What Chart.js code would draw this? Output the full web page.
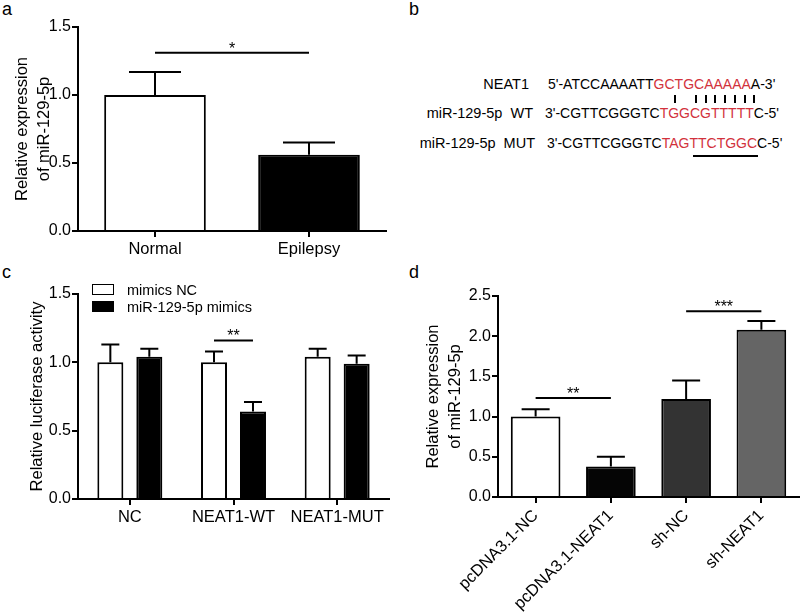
<!DOCTYPE html>
<html lang="en">
<head>
<meta charset="UTF-8">
<title>NEAT1 / miR-129-5p</title>
<script src="https://cdn.jsdelivr.net/npm/chart.js"></script>
<style>
  body { margin: 0; background: #fff; font-family: "Liberation Sans", Arial, sans-serif; color: #000; }
  #fig { position: relative; width: 800px; height: 615px; overflow: hidden; background: #fff; }
  #fig canvas { position: absolute; }
  .lbl { position: absolute; font-size: 18px; line-height: 18px; }
  .seq { position: absolute; font-size: 14px; line-height: 14px; white-space: pre; }
  .name { position: absolute; font-size: 14.5px; line-height: 14px; white-space: pre; text-align: right; }
  .red { color: #d2323c; }
  .pair { position: absolute; top: 95px; width: 2px; height: 8px; background: #000; }
  .legend-row { position: absolute; left: 92px; font-size: 14.5px; line-height: 14px; }
  .legend-row .box { position: absolute; left: 0; width: 20px; height: 9px; border: 1.5px solid #000; }
  .legend-row span { position: absolute; left: 35px; top: -1px; white-space: nowrap; }
</style>
</head>
<body>
<div id="fig">
  <div class="lbl" style="left:2px;top:0px">a</div>
  <div class="lbl" style="left:409px;top:0px">b</div>
  <div class="lbl" style="left:2px;top:263px">c</div>
  <div class="lbl" style="left:409px;top:263px">d</div>

  <canvas id="chartA" width="400" height="270" style="left:0;top:0"></canvas>
  <canvas id="chartC" width="400" height="340" style="left:0;top:275px"></canvas>
  <canvas id="chartD" width="400" height="340" style="left:400px;top:275px"></canvas>

  <!-- panel b: binding site -->
  <div class="name" style="right:271px;top:77px">NEAT1</div>
  <div class="seq" style="left:548px;top:77px">5'-ATCCAAAATT<span class="red">GCTGCAAAAA</span>A-3'</div>
  <div class="name" style="right:267px;top:106px">miR-129-5p  WT</div>
  <div class="seq" style="left:545px;top:106px">3'-CGTTCGGGTC<span class="red">TGGCGTTTTT</span>C-5'</div>
  <div class="name" style="right:265px;top:136px">miR-129-5p  MUT</div>
  <div class="seq" style="left:547px;top:136px">3'-CGTTCGGGTC<span class="red">TAGTTCTGGC</span>C-5'</div>
  <div id="pairs"></div>
  <div style="position:absolute;left:693px;top:155px;width:65px;height:2px;background:#000"></div>

  <div id="legendC"></div>
</div>

<script>
// panel a
const catsA = ['Normal', 'Epilepsy'];
const valsA = [1.0, 0.56];
const errA = [0.17, 0.09];
const colorsA = ['#ffffff', '#000000'];

// panel c
const catsC = ['NC', 'NEAT1-WT', 'NEAT1-MUT'];
const seriesC = ['mimics NC', 'miR-129-5p mimics'];
const seriesColorsC = ['#ffffff', '#000000'];
const mimicsNcC = [1.0, 1.0, 1.04];
const mimicsNcErrC = [0.13, 0.08, 0.06];
const mimicsC = [1.04, 0.64, 0.99];
const mimicsErrC = [0.06, 0.07, 0.06];

// panel d
const catsD = ['pcDNA3.1-NC', 'pcDNA3.1-NEAT1', 'sh-NC', 'sh-NEAT1'];
const valsD = [1.0, 0.38, 1.22, 2.08];
const errD = [0.09, 0.12, 0.23, 0.11];
const colorsD = ['#ffffff', '#050505', '#333333', '#656565'];

// significance brackets: [dataset, index] endpoints, height in data units
const sigA = [{ from: [0, 0], to: [0, 1], value: 1.31, text: '*' }];
const sigC = [{ from: [0, 1], to: [1, 1], value: 1.16, text: '**' }];
const sigD = [
  { from: [0, 0], to: [0, 1], value: 1.23, text: '**' },
  { from: [0, 2], to: [0, 3], value: 2.31, text: '***' }
];

// base-pairing marks in panel b (x in px)
const pairMarks = [674, 695, 705, 714, 724, 734, 744, 753];

Chart.defaults.font.family = '"Liberation Sans", Arial, sans-serif';
Chart.defaults.color = '#000';

const errorBars = {
  id: 'errorBars',
  afterDatasetsDraw(chart, args, opts) {
    const ctx = chart.ctx;
    const yScale = chart.scales.y;
    ctx.save();
    ctx.strokeStyle = '#000';
    ctx.lineWidth = 2;
    chart.data.datasets.forEach((ds, i) => {
      chart.getDatasetMeta(i).data.forEach((bar, j) => {
        const yTop = yScale.getPixelForValue(ds.data[j] + ds.errors[j]);
        ctx.beginPath();
        ctx.moveTo(bar.x, bar.y);
        ctx.lineTo(bar.x, yTop);
        ctx.moveTo(bar.x - opts.cap, yTop);
        ctx.lineTo(bar.x + opts.cap, yTop);
        ctx.stroke();
      });
    });
    ctx.restore();
  }
};

const sigBars = {
  id: 'sigBars',
  afterDatasetsDraw(chart, args, opts) {
    const ctx = chart.ctx;
    const yScale = chart.scales.y;
    ctx.save();
    ctx.strokeStyle = '#000';
    ctx.fillStyle = '#000';
    ctx.lineWidth = 2;
    ctx.font = '16px "Liberation Sans", Arial, sans-serif';
    ctx.textAlign = 'center';
    ctx.textBaseline = 'alphabetic';
    opts.items.forEach(s => {
      const x1 = chart.getDatasetMeta(s.from[0]).data[s.from[1]].x;
      const x2 = chart.getDatasetMeta(s.to[0]).data[s.to[1]].x;
      const y = yScale.getPixelForValue(s.value);
      ctx.beginPath();
      ctx.moveTo(x1, y);
      ctx.lineTo(x2, y);
      ctx.stroke();
      ctx.fillText(s.text, (x1 + x2) / 2, y + 1);
    });
    ctx.restore();
  }
};

function barOptions(cfg) {
  const axisGrid = { display: true, drawOnChartArea: false, tickLength: 6, color: '#000', lineWidth: 2 };
  const axisBorder = { display: true, color: '#000', width: 2 };
  return {
    responsive: false,
    animation: false,
    layout: { padding: cfg.padding },
    plugins: {
      legend: { display: false },
      tooltip: { enabled: false },
      errorBars: { cap: cfg.cap },
      sigBars: { items: cfg.sig }
    },
    scales: {
      x: {
        z: 1,
        afterFit: s => { s.height = cfg.xHeight; },
        grid: Object.assign({ offset: false }, axisGrid),
        border: axisBorder,
        ticks: { color: '#000', font: { size: 16.5 }, padding: 3, autoSkip: false,
                 minRotation: cfg.rot, maxRotation: cfg.rot }
      },
      y: {
        z: 1,
        min: 0,
        max: cfg.yMax,
        afterFit: s => { s.width = cfg.yWidth; },
        grid: axisGrid,
        border: axisBorder,
        ticks: { stepSize: 0.5, color: '#000', font: { size: 16 }, padding: 1,
                 callback: v => v.toFixed(1) },
        title: { display: true, text: cfg.title, color: '#000',
                 font: { size: 16.5, lineHeight: 1.35 }, padding: { top: cfg.titlePad, bottom: 0 } }
      }
    }
  };
}

new Chart(document.getElementById('chartA'), {
  type: 'bar',
  data: {
    labels: catsA,
    datasets: [{
      data: valsA,
      errors: errA,
      backgroundColor: colorsA,
      borderColor: '#000',
      borderWidth: 2,
      barPercentage: 0.66,
      categoryPercentage: 1
    }]
  },
  options: barOptions({
    padding: { top: 27, right: 14, bottom: 0, left: 0 },
    xHeight: 39, yWidth: 78, yMax: 1.5, rot: 0, cap: 26, sig: sigA,
    title: ['Relative expression', 'of miR-129-5p'], titlePad: 11
  }),
  plugins: [errorBars, sigBars]
});

new Chart(document.getElementById('chartC'), {
  type: 'bar',
  data: {
    labels: catsC,
    datasets: [
      { label: seriesC[0], data: mimicsNcC, errors: mimicsNcErrC, backgroundColor: seriesColorsC[0],
        borderColor: '#000', borderWidth: 2, barPercentage: 0.667, categoryPercentage: 0.752 },
      { label: seriesC[1], data: mimicsC, errors: mimicsErrC, backgroundColor: seriesColorsC[1],
        borderColor: '#000', borderWidth: 2, barPercentage: 0.667, categoryPercentage: 0.752 }
    ]
  },
  options: barOptions({
    padding: { top: 19, right: 11, bottom: 0, left: 0 },
    xHeight: 116, yWidth: 78, yMax: 1.5, rot: 0, cap: 9, sig: sigC,
    title: 'Relative luciferase activity', titlePad: 26
  }),
  plugins: [errorBars, sigBars]
});

new Chart(document.getElementById('chartD'), {
  type: 'bar',
  data: {
    labels: catsD,
    datasets: [{
      data: valsD,
      errors: errD,
      backgroundColor: colorsD,
      borderColor: '#000',
      borderWidth: 2,
      barPercentage: 0.66,
      categoryPercentage: 1
    }]
  },
  options: barOptions({
    padding: { top: 21, right: 1, bottom: 0, left: 0 },
    xHeight: 118, yWidth: 98, yMax: 2.5, rot: 45, cap: 14, sig: sigD,
    title: ['Relative expression', 'of miR-129-5p'], titlePad: 22
  }),
  plugins: [errorBars, sigBars]
});

// legend for panel c
const legendEl = document.getElementById('legendC');
seriesC.forEach((name, i) => {
  const row = document.createElement('div');
  row.className = 'legend-row';
  row.style.top = (284 + i * 17) + 'px';
  row.innerHTML = '<div class="box" style="background:' + seriesColorsC[i] + '"></div><span>' + name + '</span>';
  legendEl.appendChild(row);
});

// pairing ticks in panel b
const pairsEl = document.getElementById('pairs');
pairMarks.forEach(x => {
  const d = document.createElement('div');
  d.className = 'pair';
  d.style.left = x + 'px';
  pairsEl.appendChild(d);
});
</script>
</body>
</html>
